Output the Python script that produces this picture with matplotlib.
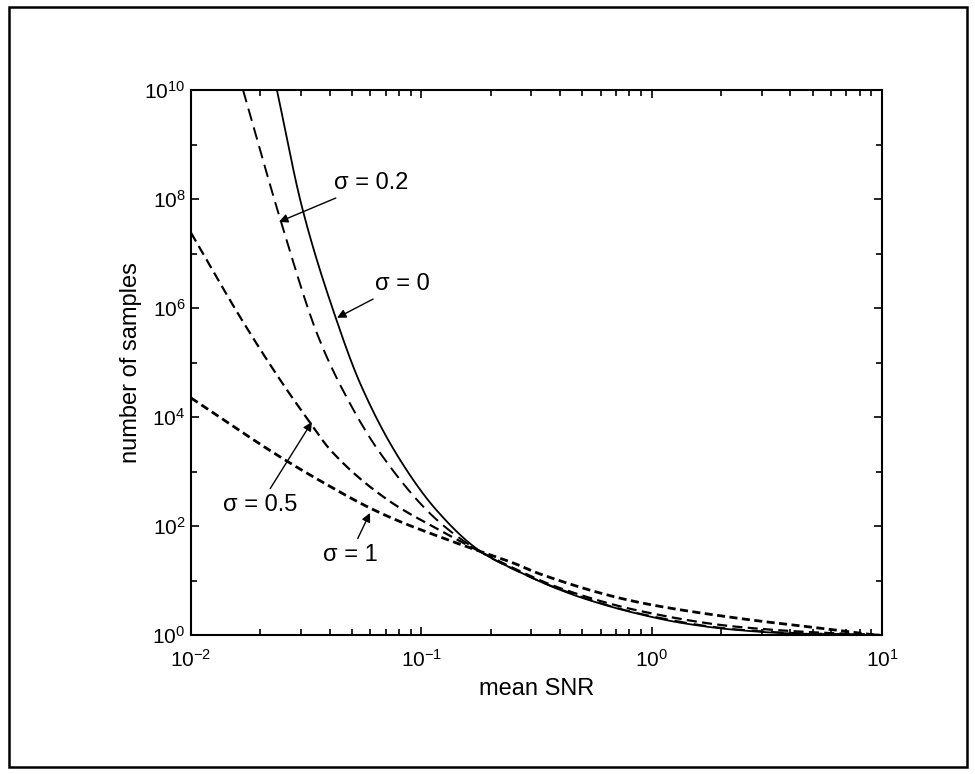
import numpy as np
import matplotlib.pyplot as plt
from matplotlib.patches import Rectangle
from matplotlib.ticker import LogLocator, NullFormatter, FixedLocator

plt.rcParams['font.family'] = ['Liberation Sans', 'DejaVu Sans']
plt.rcParams['mathtext.fontset'] = 'custom'
plt.rcParams['mathtext.rm'] = 'Liberation Sans'

# values (log10 of mean SNR, log10 of number of samples)
lx_s0 = [-1.627, -1.518, -1.366, -1.266, -1.105, -0.932, -0.745, -0.571, -0.411, -0.272, -0.05, 0.132, 0.35, 0.6, 1.0]
ly_s0 = [10.0, 7.85, 5.75, 4.62, 3.30, 2.28, 1.54, 1.15, 0.85, 0.64, 0.38, 0.22, 0.10, 0.03, 0.0]

lx_s02 = [-1.774, -1.609, -1.45, -1.344, -1.179, -0.932, -0.745, -0.571, -0.411, -0.05, 0.35, 0.6, 1.0]
ly_s02 = [10.0, 7.58, 5.50, 4.52, 3.34, 2.11, 1.53, 1.15, 0.86, 0.39, 0.11, 0.04, 0.0]

lx_s05 = [-2.0, -1.779, -1.6, -1.475, -1.396, -1.136, -0.932, -0.745, -0.571, -0.411, -0.05, 0.35, 0.7, 1.0]
ly_s05 = [7.38, 5.78, 4.6, 3.85, 3.40, 2.45, 1.95, 1.53, 1.17, 0.88, 0.44, 0.16, 0.05, 0.0]

lx_s1 = [-2.0, -1.614, -1.427, -1.223, -1.092, -0.932, -0.789, -0.6, -0.485, -0.068, 0.336, 0.8, 0.97]
ly_s1 = [4.35, 3.27, 2.80, 2.33, 2.08, 1.82, 1.60, 1.32, 1.12, 0.61, 0.33, 0.09, 0.0]


def pchip(xk, yk, t):
    # monotone cubic through the read points, so the curves bend smoothly
    xk = np.asarray(xk, float)
    yk = np.asarray(yk, float)
    h = np.diff(xk)
    d = np.diff(yk) / h
    m = np.zeros_like(yk)
    for i in range(1, len(xk) - 1):
        if d[i - 1] * d[i] > 0:
            w1 = 2 * h[i] + h[i - 1]
            w2 = h[i] + 2 * h[i - 1]
            m[i] = (w1 + w2) / (w1 / d[i - 1] + w2 / d[i])
    m[0] = d[0]
    m[-1] = d[-1]
    idx = np.clip(np.searchsorted(xk, t) - 1, 0, len(xk) - 2)
    s = (t - xk[idx]) / h[idx]
    h00 = 2 * s**3 - 3 * s**2 + 1
    h10 = s**3 - 2 * s**2 + s
    h01 = -2 * s**3 + 3 * s**2
    h11 = s**3 - s**2
    return h00 * yk[idx] + h10 * h[idx] * m[idx] + h01 * yk[idx + 1] + h11 * h[idx] * m[idx + 1]


def dense(lx, ly):
    t = np.linspace(lx[0], lx[-1], 400)
    return 10 ** t, 10 ** pchip(lx, ly, t)


fig = plt.figure(figsize=(9.75, 7.74), dpi=100)
ax = fig.add_axes([191 / 975, 139 / 774, 691 / 975, 545 / 774])

x, y = dense(lx_s0, ly_s0)
ax.plot(x, y, color='black', lw=1.3, linestyle='-')
x, y = dense(lx_s02, ly_s02)
ax.plot(x, y, color='black', lw=1.4, dashes=(6.5, 3.5))
x, y = dense(lx_s05, ly_s05)
ax.plot(x, y, color='black', lw=1.6, dashes=(4.5, 2.4))
x, y = dense(lx_s1, ly_s1)
ax.plot(x, y, color='black', lw=2.0, dashes=(2.9, 1.6))

ax.set_xscale('log')
ax.set_yscale('log')
ax.set_xlim(1e-2, 1e1)
ax.set_ylim(1e0, 1e10)
ax.set_xticks([1e-2, 1e-1, 1e0, 1e1])
ax.set_yticks([1e0, 1e2, 1e4, 1e6, 1e8, 1e10])
ax.xaxis.set_minor_locator(LogLocator(base=10, subs=np.arange(2, 10)))
ax.yaxis.set_minor_locator(FixedLocator([1e1, 1e3, 1e5, 1e7, 1e9]))
ax.xaxis.set_minor_formatter(NullFormatter())
ax.yaxis.set_minor_formatter(NullFormatter())
ax.tick_params(which='both', direction='in', top=True, right=True, labelsize=15, width=1.2)
ax.tick_params(which='major', length=6)
ax.tick_params(which='minor', length=4)
ax.tick_params(axis='x', pad=10)
ax.tick_params(axis='y', pad=4)
for s in ax.spines.values():
    s.set_linewidth(1.5)

ax.set_xlabel('mean SNR', fontsize=17, labelpad=5)
ax.set_ylabel('number of samples', fontsize=17, labelpad=2)

arrow = dict(arrowstyle='-|>', color='black', lw=1.0, mutation_scale=13, shrinkA=2, shrinkB=0)
ax.annotate('σ = 0.2', xy=(10 ** -1.618, 10 ** 7.58), xytext=(10 ** -1.218, 10 ** 8.29),
            ha='center', va='center', fontsize=17, arrowprops=arrow)
ax.annotate('σ = 0', xy=(10 ** -1.366, 10 ** 5.82), xytext=(10 ** -1.084, 10 ** 6.44),
            ha='center', va='center', fontsize=17, arrowprops=arrow)
ax.annotate('σ = 0.5', xy=(10 ** -1.475, 10 ** 3.91), xytext=(10 ** -1.700, 10 ** 2.39),
            ha='center', va='center', fontsize=17, arrowprops=arrow)
ax.annotate('σ = 1', xy=(10 ** -1.223, 10 ** 2.24), xytext=(10 ** -1.310, 10 ** 1.47),
            ha='center', va='center', fontsize=17, arrowprops=arrow)

# outer frame of the scanned figure
fig.patches.append(Rectangle((9 / 975, 7 / 774), 958 / 975, 760 / 774, transform=fig.transFigure,
                             fill=False, edgecolor='black', lw=1.8))

fig.savefig('out.png', dpi=100)
